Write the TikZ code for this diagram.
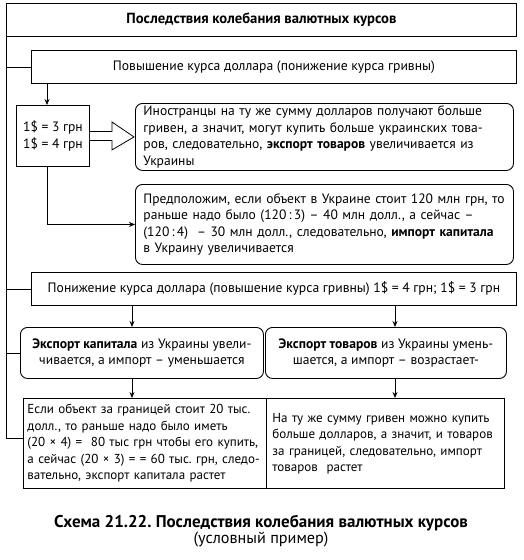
\documentclass[tikz,border=0pt]{standalone}
\usepackage{fontspec}
\setmainfont{PT Sans}
\usepackage{tikz}
\usetikzlibrary{arrows.meta,calc}
\frenchspacing
\newlength\mylen
\newcommand\fitsize[4]{%
  \settowidth\mylen{\fontsize{10pt}{12pt}\selectfont#2#3}%
  \pgfmathsetmacro#1{10*#4/\mylen}}
\newcommand\fitmin[4]{%
  \fitsize\tmpsize{#2}{#3}{#4}%
  \pgfmathsetmacro#1{min(#1,\tmpsize)}}
\newcommand\lines[1]{\begin{tabular}{@{}l@{}}#1\end{tabular}}
\begin{document}
\frenchspacing
\fitsize{\tsize}{\bfseries}{Последствия колебания валютных курсов}{270}%
\fitsize{\bsize}{}{Повышение курса доллара (понижение курса гривны)}{322}%
\def\psize{100}\def\qsize{100}%
\fitmin{\psize}{}{Иностранцы на ту же сумму долларов получают больше}{340}%
\fitmin{\psize}{}{гривен, а значит, могут купить больше украинских това-}{341}%
\fitmin{\psize}{}{Предположим, если объект в Украине стоит 120 млн грн, то}{357}%
\fitmin{\psize}{}{(120\,:\,4) \ – 30 млн долл., следовательно, \textbf{импорт капитала}}{352}%
\fitmin{\psize}{}{\textbf{Экспорт капитала} из Украины увели-}{219}%
\fitmin{\qsize}{}{Если объект за границей стоит 20 тыс.}{230}%
\fitmin{\qsize}{}{(20 × 4) = \ 80 тыс грн чтобы его купить,}{234}%
\fitmin{\qsize}{}{а сейчас (20 × 3) = = 60 тыс. грн, следо-}{235}%
\fitmin{\qsize}{}{На ту же сумму гривен можно купить}{213}%
\fitmin{\qsize}{}{больше долларов, а значит, и товаров}{216}%
\fitsize{\csize}{\bfseries}{Схема 21.22. Последствия колебания валютных курсов}{414}%
\fitsize{\dsize}{}{(условный пример)}{135}%
\begin{tikzpicture}[x=1pt,y=-1pt,
  box/.style={draw, line width=0.9pt, inner sep=0pt},
  rbox/.style={box, rounded corners=7pt},
  arr/.style={-{Stealth[length=6pt,width=5pt]}, line width=0.8pt},
  ln/.style={line width=0.8pt},
  tf/.style={font=\fontsize{\tsize}{16}\selectfont},
  bf/.style={font=\fontsize{\bsize}{16}\selectfont},
  pf/.style={font=\fontsize{\psize}{16.5}\selectfont},
  qf/.style={font=\fontsize{\qsize}{16.5}\selectfont}]
\useasboundingbox (0,0) rectangle (523,560);
% boxes
\node[box, tf, anchor=north west, minimum width=510pt, minimum height=33pt] (title) at (6,3)
  {\bfseries Последствия колебания валютных курсов};
\node[box, bf, anchor=north west, minimum width=485pt, minimum height=33pt] (up) at (31,50)
  {Повышение курса доллара (понижение курса гривны)};
\node[box, pf, anchor=north west, minimum width=73pt, minimum height=61pt, align=center] (usd) at (16,105)
  {1\$ = 3 грн\\1\$ = 4 грн};
\node[rbox, pf, anchor=north west, text width=362pt, inner xsep=8pt, minimum height=67pt, align=left] (r1) at (135,103)
  {\lines{Иностранцы на ту же сумму долларов получают больше\\
   гривен, а значит, могут купить больше украинских това-\\
   ров, следовательно, \textbf{экспорт товаров} увеличивается из\\
   Украины}};
\node[rbox, pf, anchor=north west, text width=362pt, inner xsep=8pt, minimum height=80pt, align=left] (r2) at (135,184)
  {\lines{Предположим, если объект в Украине стоит 120 млн грн, то\\
   раньше надо было (120\,:\,3) – 40 млн долл., а сейчас –\\
   (120\,:\,4) \ – 30 млн долл., следовательно, \textbf{импорт капитала}\\
   в Украину увеличивается}};
\node[box, bf, anchor=north west, minimum width=485pt, minimum height=33pt] (down) at (31,272)
  {Понижение курса доллара (повышение курса гривны) 1\$ = 4 грн; 1\$ = 3 грн};
\node[rbox, pf, anchor=north west, minimum width=243pt, minimum height=51pt, align=center] (b3) at (20,327)
  {\textbf{Экспорт капитала} из Украины увели-\\чивается, а импорт – уменьшается};
\node[rbox, pf, anchor=north west, minimum width=241pt, minimum height=51pt, align=center] (b4) at (265,327)
  {\textbf{Экспорт товаров} из Украины умень-\\шается, а импорт – возрастает-};
\node[box, qf, anchor=north west, text width=235pt, inner xsep=4pt, minimum height=90pt, align=left] (b5) at (23,398)
  {\lines{Если объект за границей стоит 20 тыс.\\
   долл., то раньше надо было иметь\\
   (20 × 4) = \ 80 тыс грн чтобы его купить,\\
   а сейчас (20 × 3) = = 60 тыс. грн, следо-\\
   вательно, экспорт капитала растет}};
\node[box, qf, anchor=north west, text width=226pt, inner xsep=6pt, minimum height=90pt, align=left] (b6) at (266,398)
  {\lines{На ту же сумму гривен можно купить\\
   больше долларов, а значит, и товаров\\
   за границей, следовательно, импорт\\
   товаров \ растет}};
% caption
\node[font=\fontsize{\csize}{16}\selectfont\bfseries] (cap1) at (261,523) {Схема 21.22. Последствия колебания валютных курсов};
\node[font=\fontsize{\dsize}{16}\selectfont] (cap2) at (261,540) {(условный пример)};
% connectors
\coordinate (j5) at (6,438);
\draw[ln] (title.south west) -- (j5) -- (j5 -| b5.west);
\draw[ln] (title.south west |- up.west) -- (up.west);
\draw[ln] (title.south west |- down.west) -- (down.west);
\draw[ln] (title.south west |- b3.west) -- (b3.west);
\coordinate (ax) at (47,0);
\coordinate (ax1) at (132,0);
\coordinate (ax2) at (395,0);
\draw[arr] (up.south -| ax) -- (usd.north -| ax);
\draw[arr] (usd.south -| ax) |- (r2.west);
\draw[arr] (down.south -| ax1) -- (b3.north -| ax1);
\draw[arr] (down.south -| ax2) -- (b4.north -| ax2);
\draw[arr] (b3.south -| ax1) -- (b5.north -| ax1);
\draw[arr] (b4.south -| ax2) -- (b6.north -| ax2);
% block arrow
\draw[ln, fill=white] ($(usd.east)+(0,-4.5)$) -- ($(usd.east)+(22,-4.5)$) -- ($(usd.east)+(22,-14)$)
  -- ($(r1.west)+(-1,0)$) -- ($(usd.east)+(22,14)$) -- ($(usd.east)+(22,4.5)$) -- ($(usd.east)+(0,4.5)$);
\end{tikzpicture}
\end{document}
